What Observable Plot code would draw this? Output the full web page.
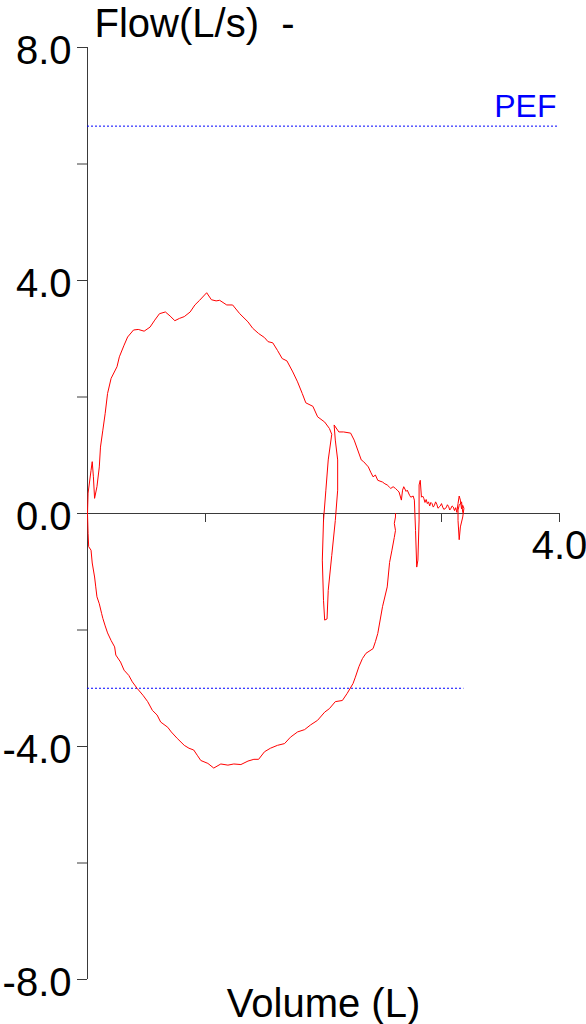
<!DOCTYPE html>
<html>
<head>
<meta charset="utf-8">
<script src="https://cdn.jsdelivr.net/npm/d3@7"></script>
<script src="https://cdn.jsdelivr.net/npm/@observablehq/plot@0.6"></script>
<style>
  html, body { margin: 0; padding: 0; background: #fff; }
  svg { display: block; }
</style>
</head>
<body>
<div id="chart"></div>
<script>
// ---- text ----
const yTitle = "Flow(L/s)\u00a0\u00a0-";
const xTitle = "Volume (L)";

// ---- axes ----
const xTicks = [1, 2, 3, 4];
const xTickLabels = [4];
const yTicks = [-8, -6, -4, -2, 0, 2, 4, 6, 8];
const yTickLabels = [-8, -4, 0, 4, 8];

// ---- reference (predicted) lines: flow, end volume, label ----
const refFlow = [6.65, -3.0];
const refEnd = [4.0, 3.19];
const refLabel = ["PEF", ""];

// ---- inspiratory limb [volume L, flow L/s] ----
const inspiratory = [
  [2.61,0.00],[2.61,-0.06],[2.60,-0.17],[2.61,-0.29],[2.60,-0.41],[2.58,-0.63],[2.56,-0.84],
  [2.54,-1.26],[2.50,-1.60],[2.46,-2.06],[2.44,-2.20],[2.42,-2.32],[2.36,-2.40],[2.33,-2.49],
  [2.30,-2.63],[2.27,-2.81],[2.25,-2.92],[2.20,-3.09],[2.16,-3.21],[2.10,-3.23],[2.05,-3.35],
  [2.01,-3.41],[1.95,-3.55],[1.89,-3.63],[1.84,-3.71],[1.78,-3.75],[1.72,-3.84],[1.67,-3.95],
  [1.61,-3.98],[1.55,-4.03],[1.50,-4.09],[1.45,-4.22],[1.41,-4.22],[1.36,-4.25],[1.30,-4.31],
  [1.24,-4.30],[1.19,-4.32],[1.13,-4.30],[1.07,-4.37],[1.02,-4.29],[0.96,-4.24],[0.93,-4.15],
  [0.90,-4.06],[0.86,-4.03],[0.82,-3.98],[0.76,-3.86],[0.71,-3.75],[0.68,-3.67],[0.62,-3.58],
  [0.59,-3.46],[0.55,-3.38],[0.51,-3.23],[0.47,-3.12],[0.42,-3.00],[0.38,-2.89],[0.35,-2.78],
  [0.31,-2.69],[0.28,-2.55],[0.24,-2.43],[0.23,-2.29],[0.20,-2.18],[0.17,-2.05],[0.15,-1.93],
  [0.13,-1.80],[0.12,-1.72],[0.10,-1.55],[0.08,-1.43],[0.07,-1.26],[0.06,-1.09],[0.04,-0.85],
  [0.03,-0.63],[0.01,-0.57],[0.005,-0.34],[0,0]
];

// ---- expiratory limb [volume L, flow L/s] ----
const expiratory = [
  [0,0],[0.005,0.35],[0.03,0.74],[0.04,0.89],[0.05,0.63],[0.06,0.26],[0.08,0.46],[0.10,0.80],
  [0.11,1.14],[0.13,1.43],[0.15,1.72],[0.17,2.06],[0.20,2.32],[0.25,2.52],[0.27,2.69],[0.31,2.89],
  [0.34,3.03],[0.39,3.15],[0.43,3.16],[0.48,3.13],[0.53,3.20],[0.57,3.32],[0.61,3.43],[0.66,3.46],
  [0.70,3.39],[0.74,3.31],[0.78,3.35],[0.82,3.38],[0.87,3.46],[0.91,3.58],[0.95,3.66],[1.01,3.79],
  [1.05,3.67],[1.09,3.65],[1.12,3.66],[1.18,3.58],[1.23,3.58],[1.29,3.43],[1.36,3.29],[1.40,3.18],
  [1.45,3.09],[1.50,3.02],[1.53,2.95],[1.57,2.93],[1.61,2.80],[1.65,2.66],[1.69,2.62],[1.74,2.43],
  [1.78,2.26],[1.82,2.06],[1.85,1.90],[1.91,1.84],[1.95,1.66],[2.01,1.57],[2.05,1.46],[2.07,1.36],
  [2.04,0.92],[2.02,0.40],[2.00,-0.12],[1.99,-0.80],[2.00,-1.49],[2.01,-1.83],[2.03,-1.81],
  [2.04,-1.32],[2.07,-0.72],[2.10,-0.12],[2.12,0.40],[2.12,0.92],[2.10,1.26],[2.09,1.52],
  [2.13,1.40],[2.17,1.40],[2.23,1.38],[2.26,1.26],[2.29,1.09],[2.32,0.92],[2.34,0.89],[2.38,0.80],
  [2.40,0.71],[2.42,0.63],[2.44,0.66],[2.46,0.57],[2.50,0.54],[2.52,0.51],[2.54,0.49],[2.56,0.45],
  [2.57,0.43],[2.59,0.46],[2.61,0.43],[2.63,0.39],[2.64,0.37],[2.66,0.23],[2.67,0.40],[2.68,0.46],
  [2.70,0.38],[2.71,0.40],[2.73,0.31],[2.74,0.28],[2.76,0.30],[2.77,0.23],
  [2.78,-0.29],[2.79,-0.92],[2.80,-0.80],[2.81,-0.11],[2.81,0.49],[2.82,0.57],[2.83,0.28],
  [2.84,0.30],[2.85,0.26],[2.86,0.19],[2.87,0.24],[2.88,0.17],[2.89,0.20],[2.90,0.13],[2.91,0.19],
  [2.92,0.17],[2.93,0.11],[2.94,0.14],[2.95,0.20],[2.96,0.16],[2.97,0.09],[2.99,0.13],[3.00,0.17],
  [3.01,0.11],[3.02,0.07],[3.04,0.10],[3.05,0.15],[3.06,0.12],[3.07,0.06],[3.08,0.09],[3.09,0.13],
  [3.10,0.11],[3.11,0.05],[3.12,0.10],[3.13,0.02],[3.14,0.17],[3.15,0.30],[3.16,0.23],[3.17,0.08],
  [3.18,0.14],[3.19,0.09],[3.18,-0.06],[3.16,-0.23],[3.15,-0.45],[3.14,-0.12],[3.14,0.06],
  [3.15,0.14],[3.17,0.20],[3.18,0.02]
];

const refs = refFlow.map((f, i) => ({flow: f, end: refEnd[i], label: refLabel[i]}));
const axisColor = "#3a3a3a";
const font = "'Liberation Sans', Arial, sans-serif";

const chart = Plot.plot({
  width: 586,
  height: 1024,
  marginTop: 47,
  marginBottom: 45,
  marginLeft: 87,
  marginRight: 27,
  style: {fontFamily: font, background: "#fff", color: "#000"},
  x: {domain: [0, 4], axis: null},
  y: {domain: [-8, 8], axis: null},
  marks: [
    // axis lines
    Plot.ruleX([0], {x: d => d, y1: -8, y2: 8, stroke: axisColor}),
    Plot.ruleY([0], {y: d => d, x1: 0, x2: 4, stroke: axisColor}),
    // y ticks (pointing left)
    Plot.ruleY(yTicks, {y: d => d, x1: 0, x2: 0, insetLeft: -10, stroke: axisColor}),
    // x ticks (pointing down)
    Plot.ruleX(xTicks, {x: d => d, y1: 0, y2: 0, insetBottom: -9, stroke: axisColor}),
    // tick labels
    Plot.text(yTickLabels, {y: d => d, frameAnchor: "left", text: d => d.toFixed(1),
      textAnchor: "end", dx: -16, dy: 4, fontSize: 40, fill: "#000"}),
    Plot.text(xTickLabels, {x: d => d, y: 0, text: d => d.toFixed(1),
      textAnchor: "middle", dy: 33, fontSize: 40, fill: "#000"}),
    // titles
    Plot.text([yTitle], {frameAnchor: "top-left", text: d => d, textAnchor: "start",
      lineAnchor: "bottom", dx: 7, dy: -11, fontSize: 40, fill: "#000"}),
    Plot.text([xTitle], {frameAnchor: "bottom", text: d => d, textAnchor: "middle",
      lineAnchor: "bottom", dy: 37, fontSize: 40, fill: "#000"}),
    // reference lines
    Plot.ruleY(refs, {y: "flow", x1: 0, x2: "end", stroke: "#0000ff", strokeDasharray: "2,2", strokeWidth: 1}),
    Plot.text(refs, {x: "end", y: "flow", text: "label", textAnchor: "end", lineAnchor: "bottom",
      dx: -3, dy: -9, fontSize: 32, fill: "#0000ff"}),
    // flow-volume loop
    Plot.line(inspiratory, {x: d => d[0], y: d => d[1], stroke: "#ff0000", strokeWidth: 1, curve: "linear"}),
    Plot.line(expiratory, {x: d => d[0], y: d => d[1], stroke: "#ff0000", strokeWidth: 1, curve: "linear"})
  ]
});
document.getElementById("chart").appendChild(chart);
</script>
</body>
</html>
